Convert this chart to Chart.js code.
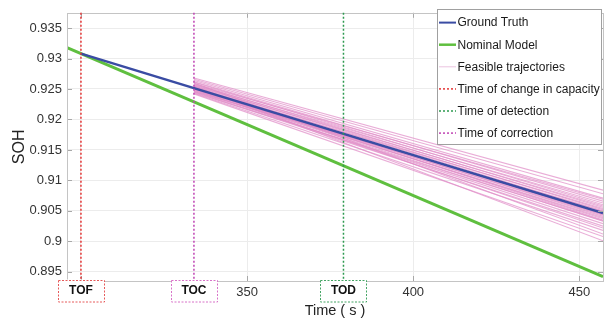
<!DOCTYPE html>
<html><head><meta charset="utf-8">
<script src="https://cdn.jsdelivr.net/npm/chart.js@4.4.0/dist/chart.umd.min.js"></script>
<style>html,body{margin:0;padding:0;background:#fff}#wrap{width:610px;height:320px}</style>
</head><body><div id="wrap"><canvas id="c" width="610" height="320"></canvas></div>
<script>
// ---- data ----
const xRange = [295.8, 457.1];
const yRange = [0.8935, 0.9375];
const xTickStep = 50;
const yTickStep = 0.005;

const groundTruthX = [300, 457.1];
const groundTruthY = [0.9308, 0.90464];

const nominalX = [295.8, 457.1];
const nominalY = [0.93179, 0.8942];

const feasibleX = [334, 457.1];
const feasibleStart = [0.9268, 0.9266, 0.9264, 0.9262, 0.9261, 0.9259, 0.9258, 0.9257, 0.9256, 0.9255,
                       0.9254, 0.9253, 0.9252, 0.9251, 0.9250, 0.9250, 0.9249, 0.9248, 0.9247, 0.9246,
                       0.9245, 0.9244, 0.9243, 0.9242, 0.9260, 0.9255, 0.9249, 0.9246, 0.9253, 0.9251];
const feasibleEnd   = [0.9084, 0.9078, 0.9071, 0.9066, 0.9060, 0.9069, 0.9056, 0.9063, 0.9052, 0.9058,
                       0.9049, 0.9045, 0.9054, 0.9041, 0.9047, 0.9037, 0.9043, 0.9033, 0.9039, 0.9029,
                       0.9025, 0.9034, 0.9018, 0.9008, 0.9012, 0.9001, 0.9022, 0.9050, 0.9044, 0.9035];

const eventTimes = [300, 334, 379];
const eventNames = ['TOF', 'TOC', 'TOD'];
const legendLabels = ['Ground Truth', 'Nominal Model', 'Feasible trajectories',
                      'Time of change in capacity', 'Time of detection', 'Time of correction'];
const xTitle = 'Time ( s )';
const yTitle = 'SOH';

// ---- styles ----
const C_BLUE = '#3a4ca3', C_GREEN = '#5fbf3f', C_PINK = 'rgba(224,142,200,0.72)';
const C_RED = '#e53535', C_DGREEN = '#2e9a50', C_MAG = '#c044b4';
const eventColors = [C_RED, C_MAG, C_DGREEN];
const boxColors = ['#e65a5a', '#d873c8', '#45a565'];
const FONT = '"Liberation Sans", Arial, Helvetica, sans-serif';

const pts = (xs, ys) => xs.map((x, i) => ({x, y: ys[i]}));

const datasets = [];
feasibleStart.forEach((s, i) => {
  datasets.push({data: pts(feasibleX, [s, feasibleEnd[i]]), borderColor: C_PINK, borderWidth: 1.1,
                 pointRadius: 0, tension: 0, order: 3});
});
datasets.push({data: pts(nominalX, nominalY), borderColor: C_GREEN, borderWidth: 3, pointRadius: 0, order: 2});
datasets.push({data: pts(groundTruthX, groundTruthY), borderColor: C_BLUE, borderWidth: 2.5, pointRadius: 0, order: 1});

const overlay = {
  id: 'overlay',
  afterDraw(chart) {
    const {ctx, chartArea: a, scales: {x, y}} = chart;
    ctx.save();
    // inner ticks
    ctx.strokeStyle = '#a8a8a8'; ctx.lineWidth = 1; ctx.setLineDash([]);
    ctx.beginPath();
    y.ticks.forEach(t => { const py = Math.round(y.getPixelForValue(t.value)) + 0.5;
      ctx.moveTo(a.left, py); ctx.lineTo(a.left + 5, py);
      ctx.moveTo(a.right, py); ctx.lineTo(a.right - 5, py); });
    x.ticks.forEach(t => { const px = Math.round(x.getPixelForValue(t.value)) + 0.5;
      ctx.moveTo(px, a.bottom); ctx.lineTo(px, a.bottom - 5);
      ctx.moveTo(px, a.top); ctx.lineTo(px, a.top + 5); });
    ctx.stroke();
    // frame
    ctx.strokeStyle = '#c4c4c4';
    ctx.strokeRect(Math.round(a.left) + 0.5, Math.round(a.top) + 0.5,
                   Math.round(a.right - a.left), Math.round(a.bottom - a.top));
    // event lines
    eventTimes.forEach((t, i) => {
      const px = x.getPixelForValue(t);
      ctx.strokeStyle = eventColors[i]; ctx.lineWidth = 1.5; ctx.setLineDash([2, 2]);
      ctx.beginPath(); ctx.moveTo(px, a.top); ctx.lineTo(px, a.bottom); ctx.stroke();
    });
    // event boxes
    eventTimes.forEach((t, i) => {
      const px = x.getPixelForValue(t);
      const w = 46, h = 21.5, top = a.bottom - 1.5;
      ctx.setLineDash([]); ctx.fillStyle = '#fff';
      ctx.fillRect(px - w / 2, top, w, h);
      ctx.strokeStyle = boxColors[i]; ctx.lineWidth = 1; ctx.setLineDash([2, 1.5]);
      ctx.strokeRect(Math.round(px - w / 2) + 0.5, Math.round(top) + 0.5, w, h);
      ctx.setLineDash([]);
      ctx.fillStyle = '#111'; ctx.font = 'bold 12px ' + FONT;
      ctx.textAlign = 'center'; ctx.textBaseline = 'middle';
      ctx.fillText(eventNames[i], px, top + h / 2 + 0.5);
    });
    // legend
    const lx = 437, ly = 9, lw = 164, lh = 135;
    ctx.setLineDash([]); ctx.fillStyle = '#fff'; ctx.fillRect(lx, ly, lw, lh);
    ctx.strokeStyle = '#a0a0a0'; ctx.lineWidth = 1; ctx.strokeRect(lx + 0.5, ly + 0.5, lw, lh);
    const sample = [
      {c: C_BLUE, w: 2, d: []}, {c: C_GREEN, w: 2.5, d: []}, {c: 'rgba(226,170,210,0.7)', w: 1, d: []},
      {c: C_RED, w: 1.5, d: [2, 2]}, {c: C_DGREEN, w: 1.5, d: [2, 2]}, {c: C_MAG, w: 1.5, d: [2, 2]}];
    ctx.font = '12px ' + FONT; ctx.textAlign = 'left'; ctx.textBaseline = 'middle';
    legendLabels.forEach((lab, i) => {
      const ry = 22.6 + i * 22.1;
      ctx.strokeStyle = sample[i].c; ctx.lineWidth = sample[i].w; ctx.setLineDash(sample[i].d);
      ctx.beginPath(); ctx.moveTo(lx + 2, ry); ctx.lineTo(lx + 19, ry); ctx.stroke();
      ctx.setLineDash([]);
      ctx.fillStyle = '#1a1a1a'; ctx.fillText(lab, lx + 20.5, ry + 0.5);
    });
    ctx.restore();
  }
};

new Chart(document.getElementById('c'), {
  type: 'line',
  data: {datasets},
  options: {
    responsive: false, animation: false, devicePixelRatio: 1,
    layout: {padding: {top: 8, right: 7, left: 0, bottom: 0}},
    plugins: {legend: {display: false}, tooltip: {enabled: false}},
    elements: {line: {tension: 0}},
    scales: {
      x: {
        type: 'linear', min: xRange[0], max: xRange[1],
        ticks: {stepSize: xTickStep, includeBounds: false, color: '#333', padding: 4,
                font: {family: FONT, size: 13}, maxRotation: 0, callback: v => String(v)},
        grid: {color: '#ececec', drawTicks: false}, border: {display: false},
        title: {display: true, text: xTitle, color: '#222', font: {family: FONT, size: 14.5},
                padding: {top: 0, bottom: 0}},
        afterFit: s => { s.height = 39; }
      },
      y: {
        type: 'linear', min: yRange[0], max: yRange[1],
        ticks: {stepSize: yTickStep, includeBounds: false, color: '#333', padding: 5,
                font: {family: FONT, size: 13}, callback: v => String(+v.toFixed(3))},
        grid: {color: '#ececec', drawTicks: false}, border: {display: false},
        title: {display: true, text: yTitle, color: '#222', font: {family: FONT, size: 16},
                padding: {top: 10, bottom: 0}},
        afterFit: s => { s.width = 67; }
      }
    }
  },
  plugins: [overlay]
});
</script></body></html>
